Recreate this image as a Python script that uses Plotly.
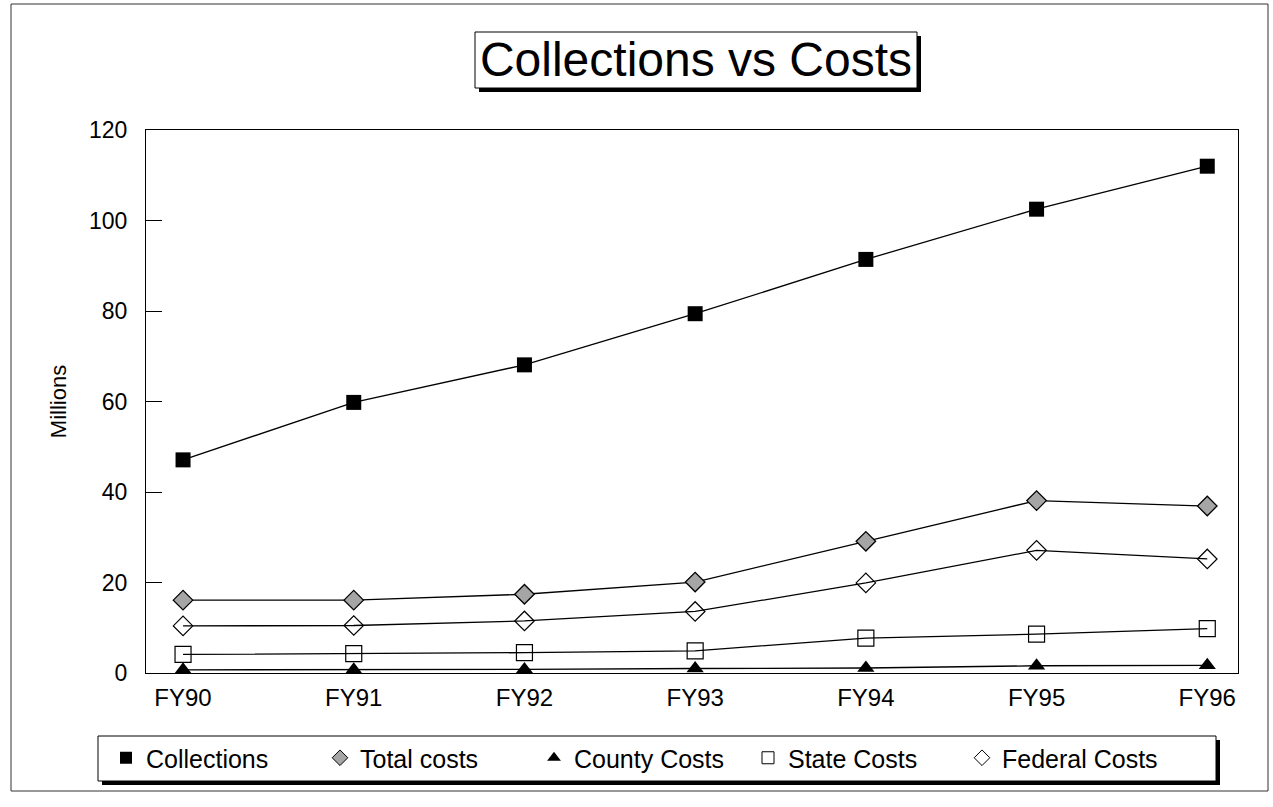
import plotly.graph_objects as go

# ---- data ----
years = ["FY90", "FY91", "FY92", "FY93", "FY94", "FY95", "FY96"]
collections = [47.1, 59.8, 68.1, 79.4, 91.4, 102.5, 112.0]
total_costs = [16.1, 16.1, 17.4, 20.1, 29.1, 38.1, 36.9]
county_costs = [0.7, 0.7, 0.8, 1.0, 1.1, 1.6, 1.7]
state_costs = [4.1, 4.3, 4.5, 4.9, 7.7, 8.6, 9.8]
federal_costs = [10.4, 10.5, 11.5, 13.6, 19.9, 27.1, 25.2]
y_ticks = [0, 20, 40, 60, 80, 100, 120]

W, H = 1273, 807
ML, MR, MT, MB = 146, 35, 130, 134
PW, PH = W - ML - MR, H - MT - MB
FONT = "Arial, 'Liberation Sans', sans-serif"


def px(x):
    return (x - ML) / PW


def py(y):
    return (H - MB - y) / PH


series = [
    ("Collections", collections, dict(symbol="square", size=15, color="black"),
     dict(symbol="square", size=12, color="black")),
    ("Total costs", total_costs, dict(symbol="diamond", size=15, color="#a5a5a5", line=dict(color="black", width=1.3)),
     dict(symbol="diamond", size=12, color="#a5a5a5", line=dict(color="black", width=1))),
    ("County Costs", county_costs, dict(symbol="triangle-up", size=15, color="black"),
     dict(symbol="triangle-up", size=12, color="black")),
    ("State Costs", state_costs, dict(symbol="square-open", size=16, color="black", line=dict(width=1.2)),
     dict(symbol="square-open", size=12, color="black", line=dict(width=1))),
    ("Federal Costs", federal_costs, dict(symbol="diamond-open", size=15, color="black", line=dict(width=1.2)),
     dict(symbol="diamond-open", size=12, color="black", line=dict(width=1))),
]

fig = go.Figure()
line = dict(color="black", width=1.3)
for name, vals, mk, lmk in series:
    fig.add_trace(go.Scatter(x=years, y=vals, name=name, mode="lines+markers", line=line,
                             marker=mk, showlegend=False, legendgroup=name))
for name, vals, mk, lmk in series:
    # legend entry (marker only, as in the reference legend)
    fig.add_trace(go.Scatter(x=[None], y=[None], name=name, mode="markers", marker=lmk,
                             showlegend=True, legendgroup=name, hoverinfo="skip"))

shapes = []
# outer page border
shapes.append(dict(type="rect", xref="paper", yref="paper", x0=px(11), x1=px(1268), y0=py(4), y1=py(791),
                   line=dict(color="#333", width=1), fillcolor="rgba(0,0,0,0)", layer="below"))
# title box with shadow
shapes.append(dict(type="rect", xref="paper", yref="paper", x0=px(479), x1=px(921), y0=py(36), y1=py(92),
                   line=dict(width=0), fillcolor="black"))
shapes.append(dict(type="rect", xref="paper", yref="paper", x0=px(475), x1=px(917), y0=py(32), y1=py(88),
                   line=dict(color="black", width=1), fillcolor="white"))
# legend box with shadow
shapes.append(dict(type="rect", xref="paper", yref="paper", x0=px(102), x1=px(1220), y0=py(740), y1=py(785),
                   line=dict(width=0), fillcolor="black"))
shapes.append(dict(type="rect", xref="paper", yref="paper", x0=px(98), x1=px(1216), y0=py(736), y1=py(781),
                   line=dict(color="black", width=1), fillcolor="white"))

fig.update_layout(
    width=W, height=H,
    margin=dict(l=ML, r=MR, t=MT, b=MB),
    paper_bgcolor="white", plot_bgcolor="white",
    font=dict(family=FONT, color="black"),
    title=dict(text="Collections vs Costs", x=696 / W, xanchor="center",
               y=1 - 59 / H, yanchor="middle", yref="container",
               font=dict(size=48, family=FONT, color="black")),
    xaxis=dict(type="category", range=[-0.217, 6.18], showline=True, mirror=True,
               linecolor="black", linewidth=1, showgrid=False, zeroline=False,
               ticks="", tickfont=dict(size=24), ticklabelstandoff=3),
    yaxis=dict(range=[0, 120], tickvals=y_ticks, showline=True, mirror=True,
               linecolor="black", linewidth=1, showgrid=False, zeroline=False,
               ticks="inside", ticklen=16, tickcolor="black", tickwidth=1,
               tickfont=dict(size=23), ticklabelstandoff=13,
               title=dict(text="Millions", font=dict(size=22), standoff=16)),
    showlegend=True,
    legend=dict(orientation="h", x=px(106), xanchor="left", y=py(758), yanchor="middle",
                bgcolor="rgba(0,0,0,0)", borderwidth=0, font=dict(size=25),
                entrywidth=169, itemwidth=30, traceorder="normal"),
    shapes=shapes,
)

fig.write_html("out.html")
